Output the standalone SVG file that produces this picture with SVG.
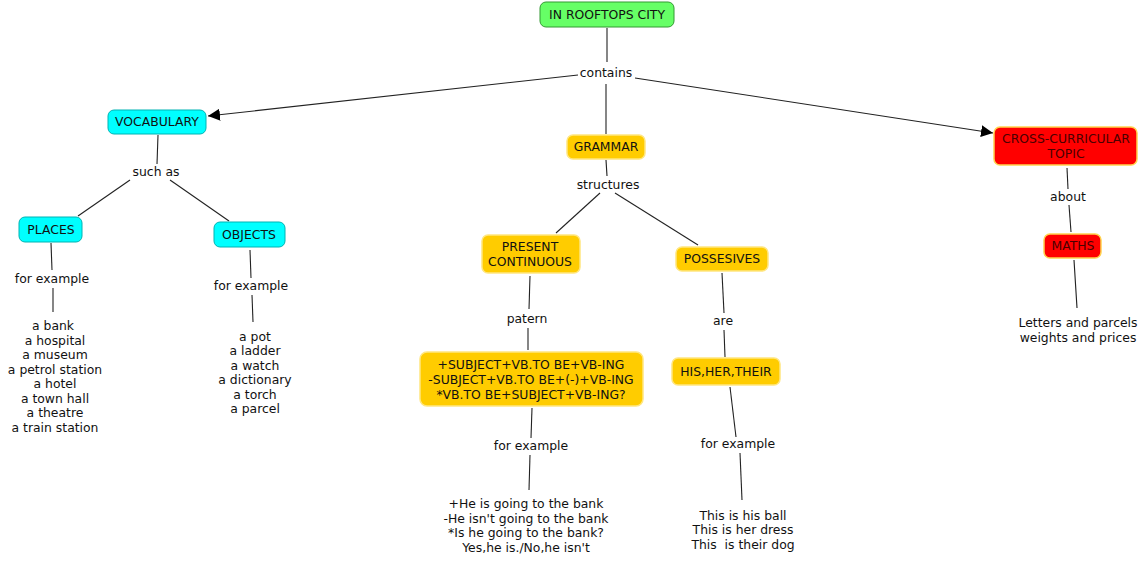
<svg xmlns="http://www.w3.org/2000/svg" width="1146" height="564" viewBox="0 0 1146 564">
<style>
text{font-family:"DejaVu Sans",Verdana,sans-serif;font-size:12.4px;fill:#111;text-anchor:middle}
.c line{stroke:#222;stroke-width:1.1}
.g rect{fill:#66FF66;stroke:#339933;stroke-width:1}
.b rect{fill:#00FFFF;stroke:#00B3B3;stroke-width:1}
.y rect{fill:#FFCC00;stroke:#FFE680;stroke-width:1.5}
.r rect{fill:#FF0000;stroke:#FFD24D;stroke-width:1.5}
.r text{fill:#4a0000}
</style>
<defs>
<marker id="ah" viewBox="0 0 10 10" refX="10" refY="5" markerWidth="12" markerHeight="12" markerUnits="userSpaceOnUse" orient="auto">
<path d="M0,0 L10,5 L0,10 z" fill="#000"/>
</marker>
</defs>
<g class="c" id="connectors">
<line x1="607" y1="28" x2="607" y2="62"/>
<line x1="578" y1="75" x2="208" y2="116" marker-end="url(#ah)"/>
<line x1="635" y1="78" x2="993" y2="133" marker-end="url(#ah)"/>
<line x1="606" y1="84" x2="606" y2="134"/>
<line x1="158" y1="135" x2="157" y2="164"/>
<line x1="130" y1="180" x2="78" y2="216"/>
<line x1="170" y1="180" x2="229" y2="221"/>
<line x1="51" y1="243" x2="52" y2="270"/>
<line x1="53" y1="288" x2="53" y2="312"/>
<line x1="250" y1="250" x2="251" y2="278"/>
<line x1="252" y1="295" x2="253" y2="322"/>
<line x1="606" y1="160" x2="607" y2="176"/>
<line x1="600" y1="193" x2="556" y2="233"/>
<line x1="615" y1="193" x2="698" y2="245"/>
<line x1="530" y1="276" x2="529" y2="309"/>
<line x1="528" y1="328" x2="528" y2="350"/>
<line x1="532" y1="408" x2="531" y2="438"/>
<line x1="530" y1="455" x2="529" y2="490"/>
<line x1="722" y1="273" x2="724" y2="313"/>
<line x1="724" y1="330" x2="725" y2="357"/>
<line x1="730" y1="387" x2="736" y2="437"/>
<line x1="740" y1="453" x2="742" y2="500"/>
<line x1="1067" y1="168" x2="1068" y2="189"/>
<line x1="1069" y1="205" x2="1071" y2="232"/>
<line x1="1074" y1="260" x2="1077" y2="308"/>
</g>
<g id="link-labels">
<text x="606" y="77">contains</text>
<text x="156" y="176">such as</text>
<text x="52" y="283">for example</text>
<text x="251" y="290">for example</text>
<text x="608" y="189">structures</text>
<text x="527" y="323">patern</text>
<text x="723" y="325">are</text>
<text x="531" y="450">for example</text>
<text x="738" y="448">for example</text>
<text x="1068" y="201">about</text>
</g>
<g id="root" class="g"><rect x="540" y="2" width="134" height="25" rx="6"/><text x="607" y="19">IN ROOFTOPS CITY</text></g>
<g id="vocabulary" class="b"><rect x="108" y="110" width="98" height="24" rx="6"/><text x="157" y="126">VOCABULARY</text></g>
<g id="grammar" class="y"><rect x="567" y="135" width="78" height="24" rx="6"/><text x="606" y="151">GRAMMAR</text></g>
<g id="cross" class="r"><rect x="994" y="127" width="143" height="38" rx="6"/><text x="1066" y="143">CROSS-CURRICULAR</text><text x="1066" y="158">TOPIC</text></g>
<g id="places" class="b"><rect x="19" y="217" width="63" height="25" rx="6"/><text x="51" y="234">PLACES</text></g>
<g id="objects" class="b"><rect x="214" y="222" width="71" height="25" rx="6"/><text x="249" y="239">OBJECTS</text></g>
<g id="places-list">
<text x="53" y="330">a bank</text>
<text x="55" y="345">a hospital</text>
<text x="55" y="359">a museum</text>
<text x="55" y="374">a petrol station</text>
<text x="55" y="388">a hotel</text>
<text x="55" y="403">a town hall</text>
<text x="55" y="417">a theatre</text>
<text x="55" y="432">a train station</text>
</g>
<g id="objects-list">
<text x="255" y="341">a pot</text>
<text x="255" y="355">a ladder</text>
<text x="255" y="370">a watch</text>
<text x="255" y="384">a dictionary</text>
<text x="255" y="399">a torch</text>
<text x="255" y="413">a parcel</text>
</g>
<g id="present" class="y"><rect x="482" y="235" width="98" height="38" rx="6"/><text x="530" y="251">PRESENT</text><text x="530" y="266">CONTINUOUS</text></g>
<g id="possesives" class="y"><rect x="676" y="247" width="92" height="24" rx="6"/><text x="722" y="263">POSSESIVES</text></g>
<g id="pattern" class="y"><rect x="420" y="352" width="223" height="54" rx="7"/><text x="531" y="369">+SUBJECT+VB.TO BE+VB-ING</text><text x="531" y="384">-SUBJECT+VB.TO BE+(-)+VB-ING</text><text x="531" y="399">*VB.TO BE+SUBJECT+VB-ING?</text></g>
<g id="his" class="y"><rect x="672" y="358" width="108" height="27" rx="6"/><text x="726" y="376">HIS,HER,THEIR</text></g>
<g id="maths" class="r"><rect x="1044" y="234" width="57" height="24" rx="6"/><text x="1073" y="250">MATHS</text></g>
<g id="pc-examples">
<text x="526" y="508">+He is going to the bank</text>
<text x="526" y="523">-He isn't going to the bank</text>
<text x="526" y="537">*Is he going to the bank?</text>
<text x="526" y="552">Yes,he is./No,he isn't</text>
</g>
<g id="his-examples">
<text x="743" y="520">This is his ball</text>
<text x="743" y="534">This is her dress</text>
<text x="743" y="549" xml:space="preserve">This  is their dog</text>
</g>
<g id="maths-text">
<text x="1078" y="327">Letters and parcels</text>
<text x="1078" y="342">weights and prices</text>
</g>
</svg>
